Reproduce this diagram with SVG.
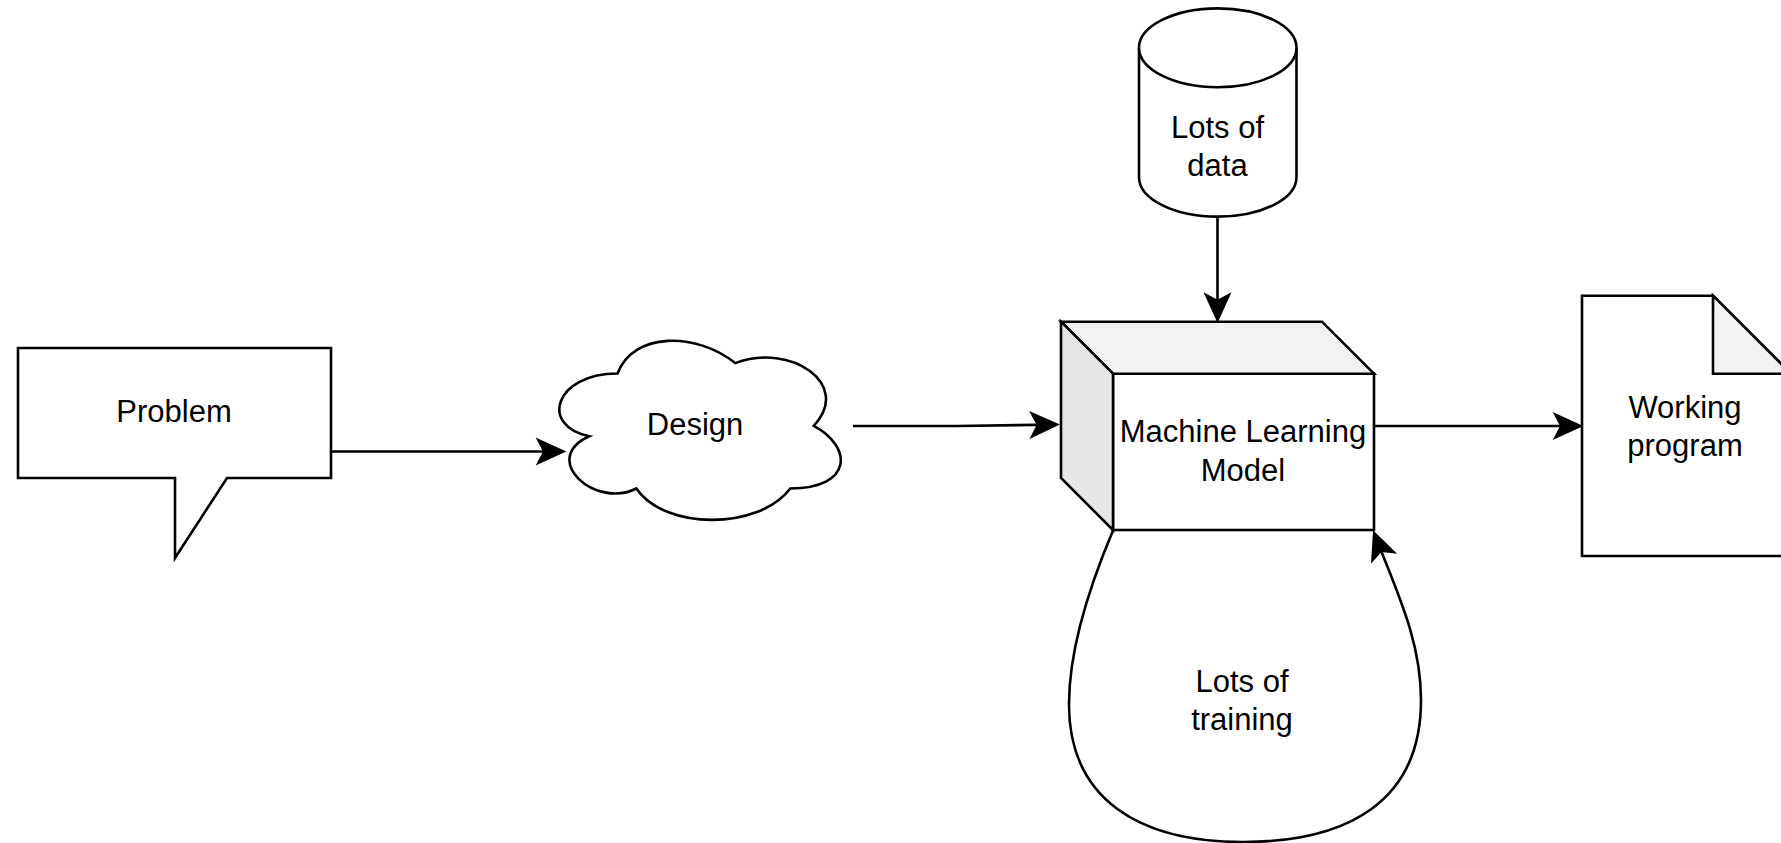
<svg xmlns="http://www.w3.org/2000/svg" width="1781" height="843" viewBox="0 0 1781 843">
  <style>
    .shape { fill: #ffffff; stroke: #000000; stroke-width: 2.6; stroke-linejoin: miter; }
    .shade1 { fill: #f2f2f2; stroke: #000000; stroke-width: 2.6; }
    .shade2 { fill: #e6e6e6; stroke: #000000; stroke-width: 2.6; }
    .edge { fill: none; stroke: #000000; stroke-width: 2.6; marker-end: url(#arrow); }
    .label { font-family: "Liberation Sans", Arial, Helvetica, sans-serif; font-size: 31px; fill: #000000; text-anchor: middle; }
  </style>
  <defs>
    <!-- classic arrowhead; tip sits 4px past the path end -->
    <marker id="arrow" markerUnits="userSpaceOnUse" markerWidth="40" markerHeight="40" viewBox="-22 -14 30 28" refX="0" refY="0" orient="auto" overflow="visible">
      <path d="M4,0 L-19,-10.5 L-13.5,0 L-19,10.5 Z" fill="#000000" stroke="none"/>
    </marker>
  </defs>

  <rect x="0" y="0" width="1781" height="843" fill="#ffffff"/>

  <!-- connectors -->
  <g id="connectors">
    <path class="edge" d="M331,451.5 L561,451.5"/>
    <path class="edge" d="M853,426 L957,426 L1054.6,424.6"/>
    <path class="edge" d="M1217.5,217 L1217.5,317.7"/>
    <path class="edge" d="M1374,426 L1578,426"/>
    <path class="edge" d="M1113,530.5 C1090,585 1069,650 1069,704 C1069,800 1140,842 1243,842 C1350,842 1421,800 1421,700 C1421,640 1396,590 1375,535.2"/>
  </g>

  <!-- speech callout -->
  <g id="node-problem">
    <path class="shape" d="M18,348 L331,348 L331,478 L227,478 L175,558 L175,478 L18,478 Z"/>
    <text class="label" x="174" y="422">Problem</text>
  </g>

  <!-- cloud -->
  <g id="node-design">
    <path class="shape" transform="translate(539,321.3) scale(314,209)" vector-effect="non-scaling-stroke"
      d="M0.25,0.25 C0.05,0.25 0,0.5 0.16,0.55 C0,0.66 0.18,0.9 0.31,0.8 C0.4,1 0.7,1 0.8,0.8 C1,0.8 1,0.6 0.875,0.5 C1,0.3 0.8,0.1 0.625,0.2 C0.5,0.05 0.3,0.05 0.25,0.25 Z"/>
    <text class="label" x="695" y="435">Design</text>
  </g>

  <!-- database cylinder -->
  <g id="node-data">
    <path class="shape" d="M1139,47.8 A78.75,39.5 0 0 1 1296.5,47.8 L1296.5,177.2 A78.75,39.5 0 0 1 1139,177.2 Z"/>
    <path class="shape" fill="none" d="M1139,47.8 A78.75,39.5 0 0 0 1296.5,47.8"/>
    <text class="label" x="1217.5" y="137.7">Lots of</text>
    <text class="label" x="1217.5" y="176">data</text>
  </g>

  <!-- cube -->
  <g id="node-model">
    <rect class="shape" x="1113" y="373.7" width="261" height="156.3"/>
    <path class="shade1" d="M1061,321.7 L1322,321.7 L1374,373.7 L1113,373.7 Z"/>
    <path class="shade2" d="M1061,321.7 L1113,373.7 L1113,530 L1061,478 Z"/>
    <text class="label" x="1243" y="441.7">Machine Learning</text>
    <text class="label" x="1243" y="481">Model</text>
  </g>

  <!-- loop label -->
  <g id="label-training">
    <text class="label" x="1242" y="691.7">Lots of</text>
    <text class="label" x="1242" y="729.5">training</text>
  </g>

  <!-- note -->
  <g id="node-program">
    <path class="shape" d="M1582,295.7 L1713,295.7 L1791,373.7 L1791,556 L1582,556 Z"/>
    <path class="shade1" d="M1713,295.7 L1713,373.7 L1791,373.7 Z"/>
    <text class="label" x="1685" y="417.7">Working</text>
    <text class="label" x="1685" y="455.5">program</text>
  </g>
</svg>
